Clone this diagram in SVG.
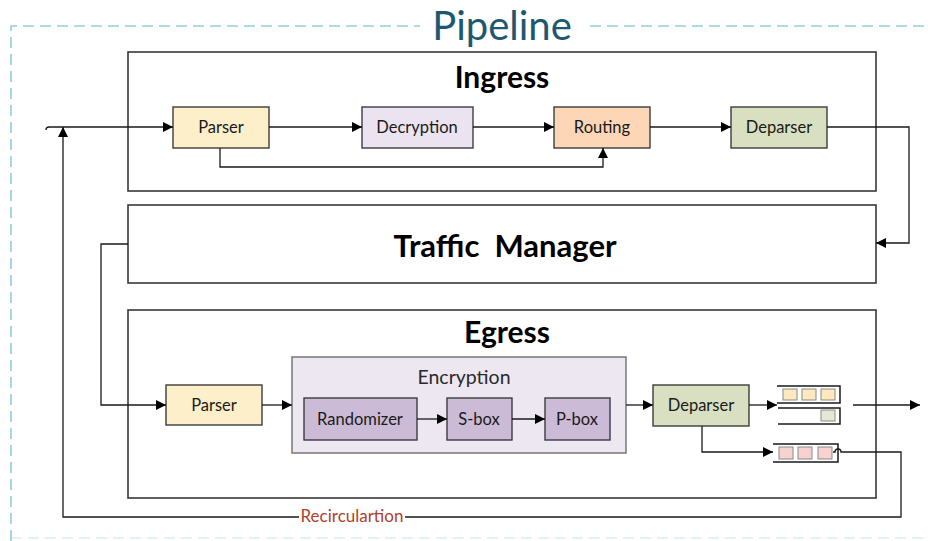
<svg xmlns="http://www.w3.org/2000/svg" width="928" height="541" viewBox="0 0 928 541">
  <style>
    .frame { fill: none; stroke: #8fcde0; stroke-width: 1.6; stroke-dasharray: 11 6; }
    .stage { fill: #ffffff; stroke: #383838; stroke-width: 1.6; }
    .node { stroke: #3c3c3c; stroke-width: 1.4; }
    .wire { fill: none; stroke: #1a1a1a; stroke-width: 1.3; }
    .title { font-family: Lato, "Open Sans", sans-serif; font-weight: bold; fill: #000; text-anchor: middle; }
    .lbl { font-family: Lato, "Open Sans", sans-serif; font-size: 16.5px; fill: #1a1a1a; text-anchor: middle; }
    .q { fill: none; stroke: #1a1a1a; stroke-width: 1.5; }
    .cell { stroke: #8a8a8a; stroke-width: 1; }
  </style>
  <defs>
    <marker id="arr" viewBox="0 0 10 10" refX="10" refY="5" markerWidth="10" markerHeight="10" markerUnits="userSpaceOnUse" orient="auto">
      <path d="M0,0 L10,5 L0,10 z" fill="#000"/>
    </marker>
  </defs>

  <!-- outer pipeline frame -->
  <g id="pipeline">
    <path class="frame" d="M11,541 V26 H420 M590,26 H928"/>
    <path class="frame" d="M11,538 H928" stroke-opacity="0.35"/>
    <text x="502" y="40" font-family="Lato, 'Open Sans', sans-serif" font-size="40" fill="#1d5870" text-anchor="middle">Pipeline</text>
  </g>

  <!-- stages -->
  <g id="ingress">
    <rect class="stage" x="128" y="52" width="748" height="139"/>
    <text class="title" x="502" y="88" font-size="30">Ingress</text>
  </g>
  <g id="traffic-manager">
    <rect class="stage" x="128" y="205" width="748" height="78"/>
    <text class="title" x="505" y="257" font-size="31" xml:space="preserve">Traffic  Manager</text>
  </g>
  <g id="egress">
    <rect class="stage" x="128" y="310" width="748" height="188"/>
    <text class="title" x="507" y="343" font-size="30">Egress</text>
  </g>

  <!-- ingress nodes -->
  <g id="in-parser">
    <rect class="node" x="173" y="107" width="96" height="41" fill="#fdefca"/>
    <text class="lbl" x="221" y="133">Parser</text>
  </g>
  <g id="in-decryption">
    <rect class="node" x="362" y="107" width="111" height="41" fill="#ebe4f0"/>
    <text class="lbl" x="417" y="133">Decryption</text>
  </g>
  <g id="in-routing">
    <rect class="node" x="554" y="107" width="96" height="41" fill="#fcd6b6"/>
    <text class="lbl" x="602" y="133">Routing</text>
  </g>
  <g id="in-deparser">
    <rect class="node" x="731" y="107" width="96" height="41" fill="#d9e0c1"/>
    <text class="lbl" x="779" y="133">Deparser</text>
  </g>

  <!-- egress nodes -->
  <g id="eg-parser">
    <rect class="node" x="166" y="385" width="96" height="40" fill="#fdefca"/>
    <text class="lbl" x="214" y="411">Parser</text>
  </g>
  <g id="eg-encryption">
    <rect x="292" y="357" width="334" height="96" fill="#ede7f1" stroke="#6e6e6e" stroke-width="1.4"/>
    <text x="464" y="384" font-family="Lato, 'Open Sans', sans-serif" font-size="19.5" fill="#2a2a2a" text-anchor="middle">Encryption</text>
  </g>
  <g id="eg-randomizer">
    <rect class="node" x="304" y="398" width="113" height="42" fill="#cbbbd7"/>
    <text class="lbl" x="360" y="425">Randomizer</text>
  </g>
  <g id="eg-sbox">
    <rect class="node" x="447" y="398" width="65" height="42" fill="#cbbbd7"/>
    <text class="lbl" x="479" y="425">S-box</text>
  </g>
  <g id="eg-pbox">
    <rect class="node" x="545" y="398" width="65" height="42" fill="#cbbbd7"/>
    <text class="lbl" x="577" y="425">P-box</text>
  </g>
  <g id="eg-deparser">
    <rect class="node" x="653" y="385" width="96" height="41" fill="#d9e0c1"/>
    <text class="lbl" x="701" y="411">Deparser</text>
  </g>

  <!-- output queues -->
  <g id="queue-out-1">
    <path class="q" d="M777,386 H840 V403 H777"/>
    <rect class="cell" x="783" y="389" width="14" height="11" fill="#fde9be"/>
    <rect class="cell" x="802" y="389" width="14" height="11" fill="#fde9be"/>
    <rect class="cell" x="821" y="389" width="14" height="11" fill="#fde9be"/>
  </g>
  <g id="queue-out-2">
    <path class="q" d="M778,408 H840 V424 H778"/>
    <rect class="cell" x="821" y="410" width="14" height="11" fill="#e2ead6"/>
  </g>
  <g id="queue-recirc">
    <path class="q" d="M773,444 H838 V462 H773"/>
    <rect class="cell" x="779" y="447" width="14" height="12" fill="#f6d2d0"/>
    <rect class="cell" x="798" y="447" width="14" height="12" fill="#f6d2d0"/>
    <rect class="cell" x="818" y="447" width="14" height="12" fill="#f6d2d0"/>
  </g>

  <!-- connectors -->
  <g id="connectors">
    <!-- ingress -->
    <path class="wire" d="M46,130 Q46,127 49,127 H173" marker-end="url(#arr)"/>
    <path class="wire" d="M269,127 H362" marker-end="url(#arr)"/>
    <path class="wire" d="M473,127 H554" marker-end="url(#arr)"/>
    <path class="wire" d="M650,127 H731" marker-end="url(#arr)"/>
    <path class="wire" d="M220,148 V167 H603 V148" marker-end="url(#arr)"/>
    <!-- ingress to traffic manager -->
    <path class="wire" d="M827,127 H909 V243 H876" marker-end="url(#arr)"/>
    <!-- traffic manager to egress -->
    <path class="wire" d="M128,244 H101 V405 H166" marker-end="url(#arr)"/>
    <!-- egress -->
    <path class="wire" d="M262,405 H292" marker-end="url(#arr)"/>
    <path class="wire" d="M417,419 H447" marker-end="url(#arr)"/>
    <path class="wire" d="M512,419 H545" marker-end="url(#arr)"/>
    <path class="wire" d="M626,405 H653" marker-end="url(#arr)"/>
    <path class="wire" d="M749,405 H777" marker-end="url(#arr)"/>
    <path class="wire" d="M702,426 V452 H773" marker-end="url(#arr)"/>
    <!-- output -->
    <path class="wire" d="M853,405 H920" marker-end="url(#arr)"/>
    <!-- recirculation -->
    <path class="wire" d="M833,452 H835 A3,3 0 0 1 841,452 H901 V517 H405 M299,517 H63 V127" marker-end="url(#arr)"/>
    <text x="352" y="522" font-family="Lato, 'Open Sans', sans-serif" font-size="17" fill="#b0412c" text-anchor="middle">Recirculartion</text>
  </g>
</svg>
